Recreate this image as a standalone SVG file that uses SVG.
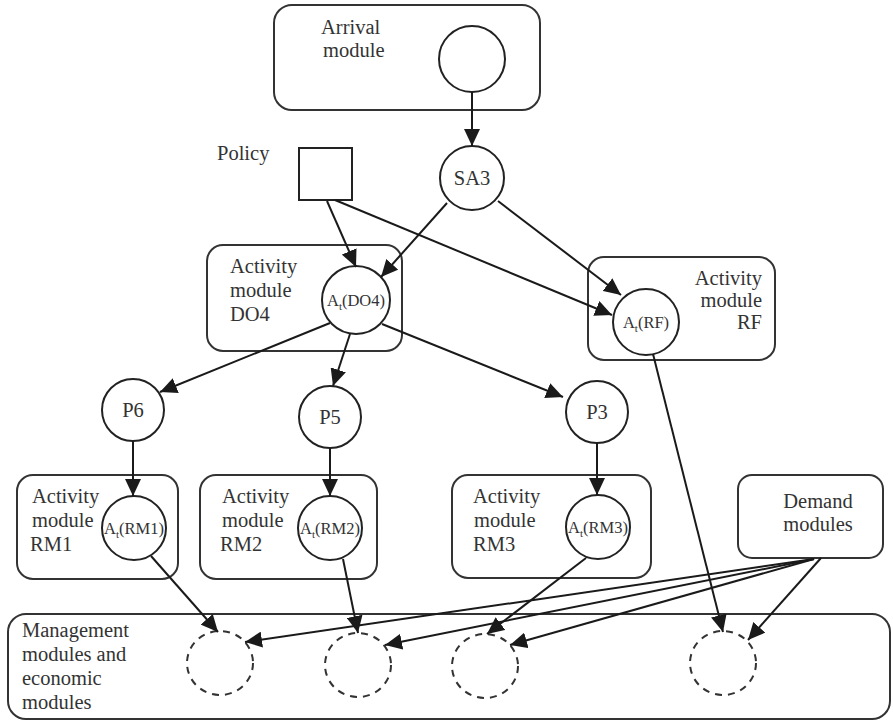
<svg xmlns="http://www.w3.org/2000/svg" width="893" height="722" viewBox="0 0 893 722">
<defs>
<marker id="ah" markerUnits="userSpaceOnUse" markerWidth="18" markerHeight="16" refX="17" refY="8" orient="auto">
<path d="M0,0 L17,8 L0,16 Z" fill="#1a1a1a"/>
</marker>
<style>
.box{fill:none;stroke:#333;stroke-width:2}
.node{fill:#fff;stroke:#222;stroke-width:2}
.dash{fill:none;stroke:#333;stroke-width:2;stroke-dasharray:7,6}
.edge{fill:none;stroke:#1a1a1a;stroke-width:2;marker-end:url(#ah)}
.t{fill:#333;font-size:20.5px}
.lbl{font-size:16.5px}
.sub{font-size:11px}
.mid{text-anchor:middle}
.end{text-anchor:end}
</style>
</defs>
<rect width="893" height="722" fill="#fff"/>
<g font-family="Liberation Serif, Times New Roman, serif">

<g id="arrival">
<rect class="box" x="274" y="5" width="266" height="105" rx="18"/>
<text class="t" x="321" y="34">Arrival</text>
<text class="t" x="323" y="57">module</text>
<circle class="node" cx="472" cy="59" r="33"/>
</g>

<g id="policy">
<text class="t" x="217" y="160">Policy</text>
<rect class="node" x="299" y="148" width="53" height="52"/>
</g>

<g id="sa3">
<circle class="node" cx="472" cy="178" r="32"/>
<text class="t mid" x="472" y="185">SA3</text>
</g>

<g id="do4">
<rect class="box" x="207" y="245" width="195" height="106" rx="16"/>
<text class="t" x="230" y="273">Activity</text>
<text class="t" x="230" y="297">module</text>
<text class="t" x="230" y="321">DO4</text>
<circle class="node" cx="356" cy="300" r="34"/>
<text class="t lbl mid" x="356" y="306">A<tspan class="sub" dy="4">t</tspan><tspan dy="-4">(DO4)</tspan></text>
</g>

<g id="rf">
<rect class="box" x="588" y="257" width="187" height="103" rx="16"/>
<text class="t end" x="762" y="285">Activity</text>
<text class="t end" x="762" y="307">module</text>
<text class="t end" x="762" y="329">RF</text>
<circle class="node" cx="646" cy="322" r="33"/>
<text class="t lbl mid" x="646" y="328">A<tspan class="sub" dy="4">t</tspan><tspan dy="-4">(RF)</tspan></text>
</g>

<g id="p6">
<circle class="node" cx="133" cy="410" r="31"/>
<text class="t mid" x="133" y="417">P6</text>
</g>
<g id="p5">
<circle class="node" cx="330" cy="417" r="31"/>
<text class="t mid" x="330" y="424">P5</text>
</g>
<g id="p3">
<circle class="node" cx="597" cy="412" r="31"/>
<text class="t mid" x="597" y="419">P3</text>
</g>

<g id="rm1">
<rect class="box" x="17" y="475" width="161" height="104" rx="16"/>
<text class="t" x="32" y="503">Activity</text>
<text class="t" x="32" y="527">module</text>
<text class="t" x="30" y="551">RM1</text>
<circle class="node" cx="134" cy="528" r="32"/>
<text class="t lbl mid" x="134" y="534">A<tspan class="sub" dy="4">t</tspan><tspan dy="-4">(RM1)</tspan></text>
</g>

<g id="rm2">
<rect class="box" x="200" y="475" width="177" height="104" rx="16"/>
<text class="t" x="222" y="503">Activity</text>
<text class="t" x="222" y="527">module</text>
<text class="t" x="220" y="551">RM2</text>
<circle class="node" cx="330" cy="528" r="32"/>
<text class="t lbl mid" x="330" y="534">A<tspan class="sub" dy="4">t</tspan><tspan dy="-4">(RM2)</tspan></text>
</g>

<g id="rm3">
<rect class="box" x="452" y="475" width="199" height="103" rx="16"/>
<text class="t" x="473" y="503">Activity</text>
<text class="t" x="474" y="527">module</text>
<text class="t" x="473" y="551">RM3</text>
<circle class="node" cx="598" cy="527" r="32"/>
<text class="t lbl mid" x="598" y="533">A<tspan class="sub" dy="4">t</tspan><tspan dy="-4">(RM3)</tspan></text>
</g>

<g id="demand">
<rect class="box" x="738" y="475" width="145" height="83" rx="14"/>
<text class="t mid" x="818" y="508">Demand</text>
<text class="t mid" x="818" y="531">modules</text>
</g>

<g id="management">
<rect class="box" x="8" y="614" width="882" height="105" rx="18"/>
<text class="t" x="22" y="637">Management</text>
<text class="t" x="22" y="661">modules and</text>
<text class="t" x="22" y="685">economic</text>
<text class="t" x="22" y="709">modules</text>
<ellipse id="m1" class="dash" cx="220" cy="663" rx="33" ry="32"/>
<ellipse id="m2" class="dash" cx="358" cy="665" rx="33" ry="32"/>
<ellipse id="m3" class="dash" cx="485" cy="666" rx="33" ry="32"/>
<ellipse id="m4" class="dash" cx="723" cy="663" rx="33" ry="32"/>
</g>
</g>

<g id="connectors">
<line class="edge" x1="472" y1="92" x2="472" y2="146"/>
<line class="edge" x1="327" y1="201" x2="356" y2="267"/>
<line class="edge" x1="335" y1="200" x2="612" y2="315"/>
<line class="edge" x1="447" y1="203" x2="381" y2="277"/>
<line class="edge" x1="498" y1="201" x2="621" y2="295"/>
<line class="edge" x1="330" y1="323" x2="160" y2="392"/>
<line class="edge" x1="350" y1="334" x2="333" y2="386"/>
<line class="edge" x1="382" y1="324" x2="563" y2="397"/>
<line class="edge" x1="133" y1="441" x2="133" y2="496"/>
<line class="edge" x1="330" y1="448" x2="330" y2="496"/>
<line class="edge" x1="597" y1="443" x2="597" y2="495"/>
<line class="edge" x1="151" y1="556" x2="218" y2="632"/>
<line class="edge" x1="343" y1="559" x2="358" y2="633"/>
<line class="edge" x1="586" y1="558" x2="487" y2="634"/>
<line class="edge" x1="653" y1="354" x2="723" y2="632"/>
<line class="edge" x1="814" y1="559" x2="245" y2="642"/>
<line class="edge" x1="814" y1="559" x2="385" y2="645"/>
<line class="edge" x1="814" y1="559" x2="510" y2="645"/>
<line class="edge" x1="821" y1="558" x2="748" y2="640"/>
</g>
</svg>
